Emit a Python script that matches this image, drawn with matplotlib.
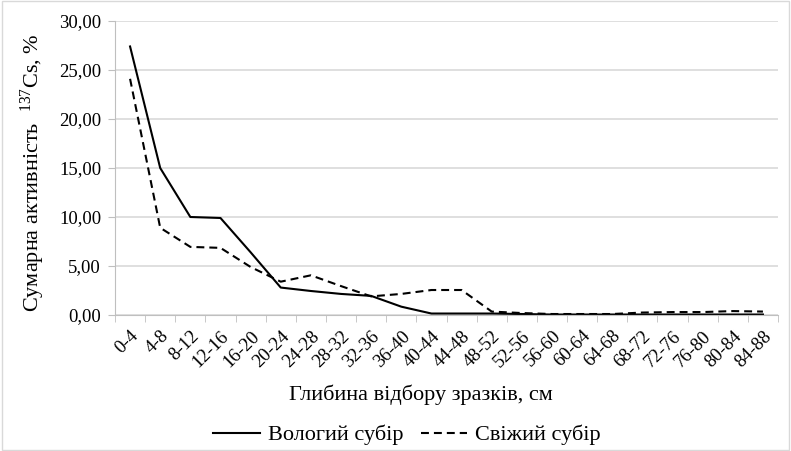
"""137Cs depth profile"""

import matplotlib
matplotlib.use("Agg")
import matplotlib.pyplot as plt
from matplotlib.ticker import FixedLocator, FuncFormatter

plt.rcParams["font.family"] = "serif"
plt.rcParams["font.serif"] = ["Liberation Serif", "DejaVu Serif"]
plt.rcParams["mathtext.fontset"] = "custom"
plt.rcParams["mathtext.rm"] = "Liberation Serif"

# глибини
depths = ["0-4", "4-8", "8-12", "12-16", "16-20", "20-24", "24-28", "28-32",
          "32-36", "36-40", "40-44", "44-48", "48-52", "52-56", "56-60", "60-64",
          "64-68", "68-72", "72-76", "76-80", "80-84", "84-88"]

# вологий субір
wet = [27.4, 15.0, 10.0, 9.9, 6.4, 2.8, 2.45, 2.15, 1.95, 0.85, 0.15, 0.15,
       0.15, 0.1, 0.05, 0.05, 0.05, 0.05, 0.05, 0.05, 0.05, 0.05]
# свіжий субір
fresh = [24.1, 8.9, 6.95, 6.85, 4.9, 3.4, 4.05, 2.95, 1.9, 2.15, 2.55, 2.55,
         0.35, 0.2, 0.1, 0.1, 0.1, 0.25, 0.3, 0.3, 0.4, 0.35]

W, H = 791, 451
fig = plt.figure(figsize=(W / 100, H / 100), dpi=100)
ax = fig.add_axes([115 / W, 1 - 315 / H, (778 - 115) / W, (315 - 21) / H])

x = list(range(len(depths)))
ax.plot(x, wet, color="black", lw=1.5, label="Вологий субір")
ax.plot(x, fresh, color="black", lw=1.5, ls=(0, (3.8, 2.4)), label="Свіжий субір")

ax.set_xlim(-0.5, len(depths) - 0.5)
ax.set_ylim(0, 30)
ax.set_yticks([0, 5, 10, 15, 20, 25, 30])
ax.yaxis.set_major_formatter(FuncFormatter(lambda v, p: f"{v:.2f}".replace(".", ",")))
ax.grid(axis="y", color="#d9d9d9", lw=1.2)
ax.set_axisbelow(True)

ax.set_xticks(x)
ax.set_xticklabels(depths, rotation=45, ha="right", rotation_mode="anchor")
ax.xaxis.set_minor_locator(FixedLocator([i - 0.5 for i in range(len(depths) + 1)]))
ax.tick_params(axis="x", which="major", length=0, labelsize=13.5, pad=9)
ax.tick_params(axis="x", which="minor", length=5, color="#bfbfbf")
ax.tick_params(axis="y", length=5, color="#bfbfbf", labelsize=13.5, pad=5)

for s in ["top", "right"]:
    ax.spines[s].set_visible(False)
ax.spines["left"].set_color("#bfbfbf")
ax.spines["bottom"].set_color("#bfbfbf")

# підписи осей
fig.text(421 / W, 1 - 400 / H, "Глибина відбору зразків, см", fontsize=16,
         ha="center", va="baseline")
fig.text(33 / W, 1 - 173 / H, "Сумарна активність  $\\mathregular{^{137}}$Cs, %",
         fontsize=16, rotation=90, ha="center", va="center")

fig.legend(loc="center", bbox_to_anchor=(407 / W, 1 - 435 / H), ncol=2, frameon=False,
           fontsize=16, handlelength=2.1, columnspacing=0.8, handletextpad=0.36)

fig.patches.append(plt.Rectangle((0.002, 0.002), 0.996, 0.996, transform=fig.transFigure,
                                 fill=False, edgecolor="#d9d9d9", lw=1))

fig.savefig("out.png", dpi=100)
